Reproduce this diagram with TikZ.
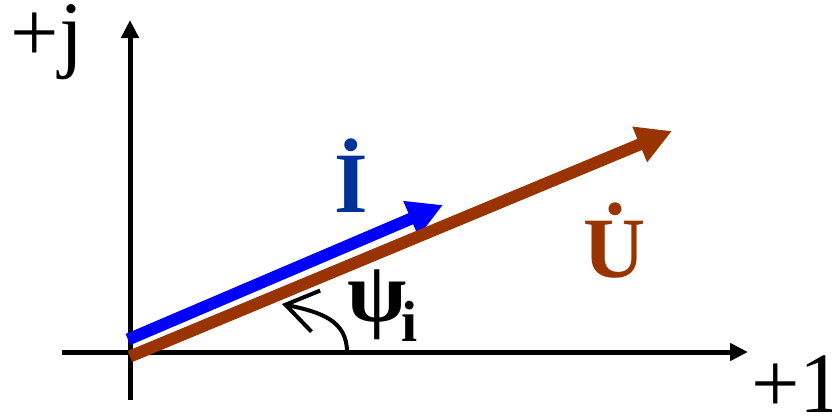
\documentclass[tikz,border=0pt]{standalone}
\usepackage{fontspec}
\setmainfont{Liberation Serif}
\usetikzlibrary{arrows.meta}
\definecolor{vblue}{HTML}{0000FF}
\definecolor{vbrown}{HTML}{993300}
\definecolor{lblue}{HTML}{003399}
\begin{document}
\begin{tikzpicture}[x=1pt,y=-1pt,
  axis/.style={line width=5pt,-{Triangle[length=18pt,width=17pt]}},
  phasor/.style={line width=12pt,-{Triangle[length=35pt,width=36pt]}},
  axlbl/.style={inner sep=0pt,anchor=base west,font=\fontsize{86}{86}\selectfont},
  veclbl/.style={inner sep=0pt,anchor=base,font=\fontsize{86}{86}\selectfont\bfseries},
  anglearc/.style={line width=4pt,-{Straight Barb[length=31pt,width=42pt]}}]
\useasboundingbox (0,0) rectangle (832,416);
% axes
\coordinate (xs) at (62,352);
\coordinate (xe) at (748,352);
\coordinate (ys) at (130,400);
\coordinate (ye) at (130,20);
\draw[axis] (ys) -- (ye);
\draw[axis] (xs) -- (xe);
\node[axlbl] (jl) at (10.5,61) {+j};
\node[axlbl] (one) at (751,412) {+1};
% phasors
\coordinate (is) at (128,339.5);
\coordinate (ie) at (443,205);
\coordinate (us) at (130,356.5);
\coordinate (ue) at (672,131);
\draw[phasor,vblue] (is) -- (ie);
\draw[phasor,vbrown] (us) -- (ue);
\node[veclbl,text=lblue] (il) at (351.5,212) {İ};
\node[veclbl,text=vbrown] (ul) at (615,277) {U̇};
% angle
\coordinate (as) at (347,352);
\coordinate (ae) at (282,304);
\draw[anglearc] (as) .. controls (347,320) and (320,312) .. (ae);
\node[inner sep=0pt,anchor=south,font=\fontsize{86}{86}\selectfont\bfseries] (psi) at (377.5,340) {ψ};
\node[inner sep=0pt,anchor=south,font=\fontsize{58}{58}\selectfont\bfseries] (sub) at (410,342) {i};
\end{tikzpicture}
\end{document}
